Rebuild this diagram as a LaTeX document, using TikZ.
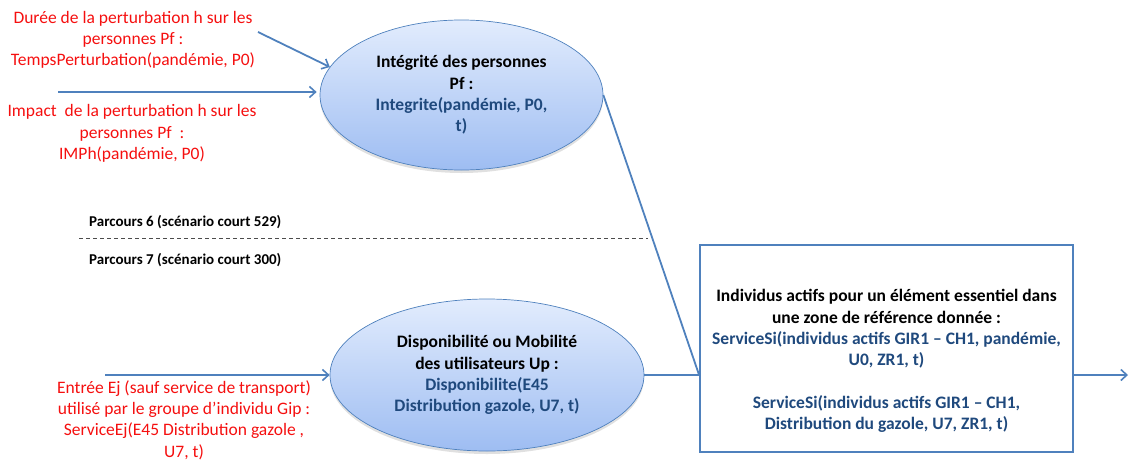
\documentclass[tikz,border=0pt]{standalone}
\usepackage{fontspec}
\setmainfont{Carlito}
\usetikzlibrary{arrows.meta,shapes.geometric,shadows,calc}
\definecolor{lineblue}{RGB}{79,129,189}
\definecolor{darkblue}{RGB}{31,73,125}
\definecolor{redtxt}{RGB}{245,15,15}
\definecolor{elltop}{RGB}{226,236,253}
\definecolor{ellbot}{RGB}{158,189,242}
\begin{document}
\begin{tikzpicture}[x=1pt,y=-1pt,
  conn/.style={draw=lineblue,line width=1.8pt},
  arr/.style={conn,-{Straight Barb[length=6pt,width=11pt,line width=1.6pt]}},
  redlabel/.style={text=redtxt,align=center,inner sep=0pt,font=\fontsize{17.5}{21.3}\selectfont},
  bubble/.style={ellipse,draw=lineblue,line width=0.7pt,top color=elltop,bottom color=ellbot,
    align=center,inner sep=0pt,font=\bfseries\fontsize{17.5}{21.3}\selectfont,
    drop shadow={shadow xshift=0pt,shadow yshift=-3pt,opacity=0.2,fill=black!60}},
  parcours/.style={anchor=west,inner sep=0pt,font=\bfseries\fontsize{15}{18}\selectfont},
  boxstyle/.style={draw=lineblue,line width=1.8pt,minimum width=373pt,minimum height=207pt,inner sep=0pt},
  boxtext/.style={align=center,inner sep=0pt,font=\bfseries\fontsize{17.5}{21.3}\selectfont}
]
\useasboundingbox (0,0) rectangle (1129,461);

% ellipses
\node[bubble,minimum width=283pt,minimum height=150pt] (top) at (461.5,95)
  {Intégrité des personnes\\Pf :\\\textcolor{darkblue}{Integrite(pandémie, P0,}\\\textcolor{darkblue}{t)}};
\node[bubble,minimum width=314pt,minimum height=152pt] (bot) at (487,375)
  {Disponibilité ou Mobilité\\des utilisateurs Up :\\\textcolor{darkblue}{Disponibilite(E45}\\\textcolor{darkblue}{Distribution gazole, U7, t)}};

% box
\node[boxstyle] (box) at (886.5,348.5) {};
\node[boxtext] (boxt) at (886.5,361)
  {Individus actifs pour un élément essentiel dans\\une zone de référence donnée :\\
   \textcolor{darkblue}{ServiceSi(individus actifs GIR1 – CH1, pandémie,}\\
   \textcolor{darkblue}{U0, ZR1, t)}\\[21.3pt]
   \textcolor{darkblue}{ServiceSi(individus actifs GIR1 – CH1,}\\
   \textcolor{darkblue}{Distribution du gazole, U7, ZR1, t)}};

% red labels
\node[redlabel] (lab1) at (133,40)
  {Durée de la perturbation h sur les\\personnes Pf :\\TempsPerturbation(pandémie, P0)};
\node[redlabel] (lab2) at (132,133.5)
  {Impact\ \ de la perturbation h sur les\\personnes Pf\ \ :\\IMPh(pandémie, P0)};
\node[redlabel] (lab3) at (184,420)
  {Entrée Ej (sauf service de transport)\\utilisé par le groupe d’individu Gip :\\ServiceEj(E45 Distribution gazole ,\\U7, t)};

% parcours
\node[parcours] (p6) at (89,222) {Parcours 6 (scénario court 529)};
\node[parcours] (p7) at (89,260) {Parcours 7 (scénario court 300)};
\coordinate (dashL) at (79,238.5);
\coordinate (dashR) at (648,238.5);
\draw[black!70,line width=0.8pt,dash pattern=on 4pt off 3pt] (dashL) -- (dashR);

% connectors
\coordinate (a1s) at (258,32);
\coordinate (a2s) at (58,92);
\coordinate (a3s) at (105,375);
\coordinate (join) at (box.west |- bot.east);
\coordinate (outend) at (1128,375);

\draw[arr] (a1s) -- (top.168);
\draw[arr,shorten >=3pt] (a2s) -- (a2s -| top.west);
\draw[arr] (a3s) -- (a3s -| bot.west);
\draw[conn] (top.east) -- (join);
\draw[conn] (bot.east) -- (join);
\draw[arr] (box.east |- join) -- (outend);
\end{tikzpicture}
\end{document}
